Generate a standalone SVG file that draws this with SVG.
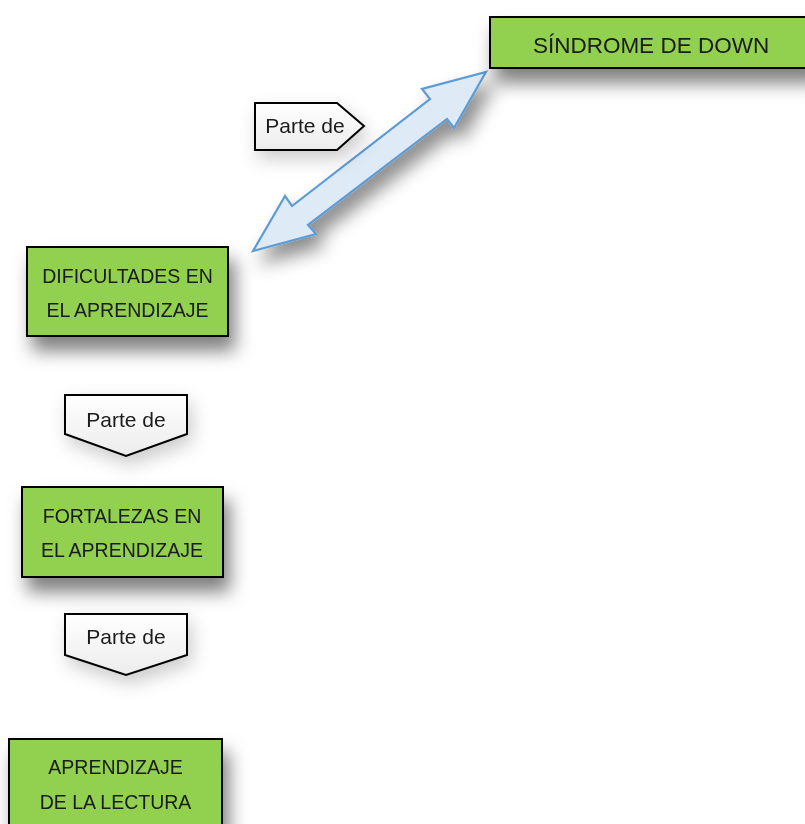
<svg xmlns="http://www.w3.org/2000/svg" width="805" height="824" viewBox="0 0 805 824">
  <defs>
    <filter id="shadow" x="-30%" y="-40%" width="170%" height="230%">
      <feDropShadow dx="6" dy="14" stdDeviation="9" flood-color="#000" flood-opacity="0.5"/>
    </filter>
    <filter id="softshadow" x="-30%" y="-40%" width="170%" height="220%">
      <feDropShadow dx="4" dy="8" stdDeviation="9" flood-color="#000" flood-opacity="0.2"/>
    </filter>
    <filter id="arrowshadow" x="-30%" y="-30%" width="180%" height="180%">
      <feDropShadow dx="8" dy="12" stdDeviation="9" flood-color="#000" flood-opacity="0.45"/>
    </filter>
    <linearGradient id="tagfill" x1="0" y1="0" x2="0" y2="1">
      <stop offset="0" stop-color="#ffffff"/>
      <stop offset="1" stop-color="#ececec"/>
    </linearGradient>
  </defs>
  <style>
    .box { fill: #92d050; stroke: #000; stroke-width: 2; }
    .tag { fill: url(#tagfill); stroke: #000; stroke-width: 2; stroke-linejoin: miter; }
    .lbl { font-family: "Liberation Sans", Arial, sans-serif; fill: #1a1a1a; text-anchor: middle; }
    .big { font-size: 22.5px; }
    .mid { font-size: 19.5px; }
    .tagtxt { font-size: 21px; }
    .arrow { fill: #deeaf6; stroke: #5b9bd5; stroke-width: 2.2; stroke-linejoin: miter; }
  </style>
  <rect width="805" height="824" fill="#ffffff"/>

  <g id="connectors">
    <polygon class="arrow" filter="url(#arrowshadow)" points="486,72 454,128 447,119 308,225 316,234 253,251 285,196 292,206 430,99 422,89"/>
  </g>

  <g id="tag-top" filter="url(#softshadow)">
    <polygon class="tag" points="255,103 337,103 364,126 337,150 255,150"/>
    <text class="lbl tagtxt" x="305" y="133">Parte de</text>
  </g>

  <g id="node-sindrome" filter="url(#shadow)">
    <rect class="box" x="490" y="17" width="325" height="51"/>
    <text class="lbl big" x="651" y="53">SÍNDROME DE DOWN</text>
  </g>

  <g id="node-dificultades" filter="url(#shadow)">
    <rect class="box" x="27" y="247" width="201" height="89"/>
    <text class="lbl mid" x="127.5" y="283">DIFICULTADES EN</text>
    <text class="lbl mid" x="127.5" y="317">EL APRENDIZAJE</text>
  </g>

  <g id="tag-middle" filter="url(#softshadow)">
    <polygon class="tag" points="65,395 187,395 187,434 126,456 65,434"/>
    <text class="lbl tagtxt" x="126" y="427">Parte de</text>
  </g>

  <g id="node-fortalezas" filter="url(#shadow)">
    <rect class="box" x="22" y="487" width="201" height="90"/>
    <text class="lbl mid" x="122" y="523">FORTALEZAS EN</text>
    <text class="lbl mid" x="122" y="557">EL APRENDIZAJE</text>
  </g>

  <g id="tag-bottom" filter="url(#softshadow)">
    <polygon class="tag" points="65,614 187,614 187,655 126,675 65,655"/>
    <text class="lbl tagtxt" x="126" y="644">Parte de</text>
  </g>

  <g id="node-aprendizaje" filter="url(#shadow)">
    <rect class="box" x="9" y="739" width="213" height="100"/>
    <text class="lbl mid" x="115.5" y="774">APRENDIZAJE</text>
    <text class="lbl mid" x="115.5" y="809">DE LA LECTURA</text>
  </g>
</svg>
